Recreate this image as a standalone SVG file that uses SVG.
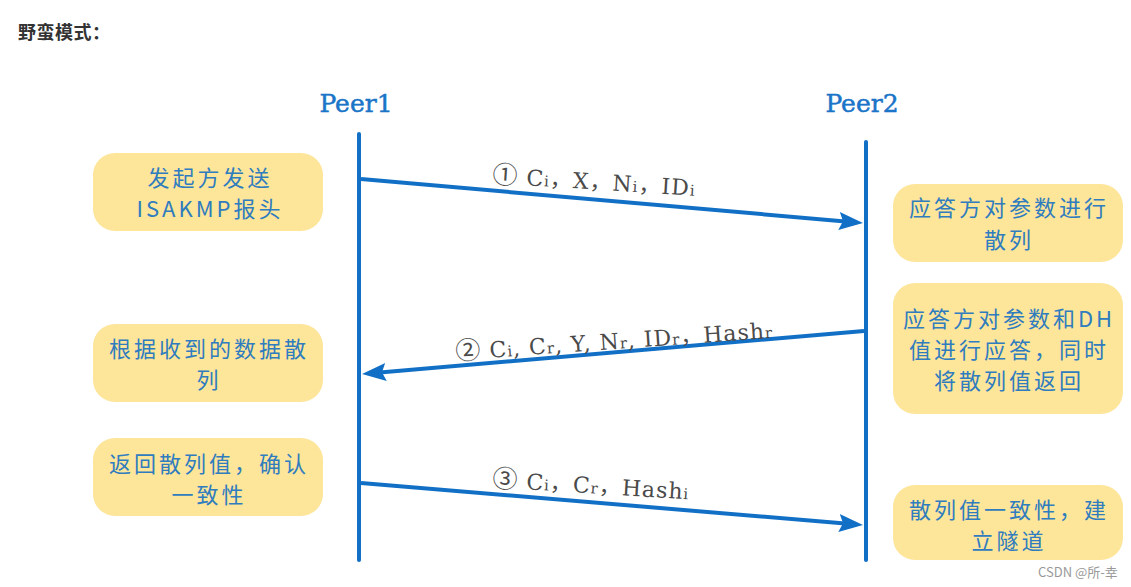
<svg xmlns="http://www.w3.org/2000/svg" width="1131" height="587" viewBox="0 0 1131 587">
<style>
.box{fill:#fde59a;}
.bt{font-family:"Noto Sans CJK SC","Noto Sans",sans-serif;font-size:22px;fill:#2f7cbf;text-anchor:middle;letter-spacing:3px;}
.peer{font-family:"DejaVu Serif","Liberation Serif",serif;font-size:25px;fill:#1a74c7;stroke:#1a74c7;stroke-width:0.5;text-anchor:middle;}
.life{stroke:#1170c6;stroke-width:4;stroke-linecap:round;fill:none;}
.msg{stroke:#1170c6;stroke-width:4;fill:none;}
.lbl{font-family:"DejaVu Serif","Liberation Serif","Noto Sans CJK SC",serif;font-size:22px;fill:#4a4a4a;letter-spacing:1px;}
.sub{font-size:15px;}
.cm{font-family:"Noto Sans CJK SC",sans-serif;}
.circ{font-family:"Noto Sans CJK SC",sans-serif;font-size:25px;}
</style>
<defs>
<marker id="ah" viewBox="0 0 24 18" refX="12" refY="9" markerWidth="24" markerHeight="18" markerUnits="userSpaceOnUse" orient="auto">
<path d="M0,0 L24,9 L0,18 L4,9 z" fill="#1170c6"/>
</marker>
</defs>
<rect width="1131" height="587" fill="#ffffff"/>
<text x="18" y="39" font-family="Noto Sans CJK SC, sans-serif" font-size="18" font-weight="bold" fill="#333333" letter-spacing="0.5">野蛮模式：</text>

<g id="peer1">
<text class="peer" x="356" y="112">Peer1</text>
<line class="life" x1="359" y1="134" x2="359" y2="560"/>
</g>
<g id="peer2">
<text class="peer" x="862" y="112">Peer2</text>
<line class="life" x1="866" y1="142" x2="866" y2="560"/>
</g>

<g id="node-l1">
<rect class="box" x="93" y="153" width="230" height="78" rx="22"/>
<text class="bt" x="210" y="186">发起方发送</text>
<text class="bt" x="210" y="217">ISAKMP报头</text>
</g>
<g id="node-r1">
<rect class="box" x="893" y="184" width="230" height="78" rx="22"/>
<text class="bt" x="1009" y="216">应答方对参数进行</text>
<text class="bt" x="1009" y="248">散列</text>
</g>
<g id="node-r2">
<rect class="box" x="893" y="283" width="230" height="131" rx="22"/>
<text class="bt" x="1009" y="327">应答方对参数和DH</text>
<text class="bt" x="1009" y="358">值进行应答，同时</text>
<text class="bt" x="1009" y="389">将散列值返回</text>
</g>
<g id="node-l2">
<rect class="box" x="93" y="324" width="230" height="78" rx="22"/>
<text class="bt" x="209" y="357">根据收到的数据散</text>
<text class="bt" x="209" y="388">列</text>
</g>
<g id="node-l3">
<rect class="box" x="93" y="438" width="230" height="78" rx="22"/>
<text class="bt" x="209" y="472">返回散列值，确认</text>
<text class="bt" x="209" y="503">一致性</text>
</g>
<g id="node-r3">
<rect class="box" x="893" y="485" width="230" height="75" rx="22"/>
<text class="bt" x="1009" y="518">散列值一致性，建</text>
<text class="bt" x="1009" y="549">立隧道</text>
</g>

<g id="connectors">
<line class="msg" x1="361" y1="179" x2="851" y2="222" marker-end="url(#ah)"/>
<line class="msg" x1="864" y1="331" x2="374" y2="373" marker-end="url(#ah)"/>
<line class="msg" x1="361" y1="483" x2="851" y2="524" marker-end="url(#ah)"/>
<text class="lbl" x="492" y="183" letter-spacing="2" transform="rotate(3.6 492 183)"><tspan class="circ">①</tspan> C<tspan class="sub">i</tspan><tspan class="cm">，</tspan>X<tspan class="cm">，</tspan>N<tspan class="sub">i</tspan><tspan class="cm">，</tspan>ID<tspan class="sub">i</tspan></text>
<text class="lbl" x="456" y="360" letter-spacing="1" transform="rotate(-4 456 360)"><tspan class="circ">②</tspan> C<tspan class="sub">i</tspan>, C<tspan class="sub">r</tspan>, Y, N<tspan class="sub">r</tspan>, ID<tspan class="sub">r</tspan><tspan class="cm">，</tspan>Hash<tspan class="sub">r</tspan></text>
<text class="lbl" x="492" y="487" letter-spacing="1.5" transform="rotate(3.6 492 487)"><tspan class="circ">③</tspan> C<tspan class="sub">i</tspan><tspan class="cm">，</tspan>C<tspan class="sub">r</tspan><tspan class="cm">，</tspan>Hash<tspan class="sub">i</tspan></text>
</g>

<text x="1038" y="577" font-family="Noto Sans CJK SC, sans-serif" font-size="13" fill="#999999">CSDN @所-幸</text>
</svg>
